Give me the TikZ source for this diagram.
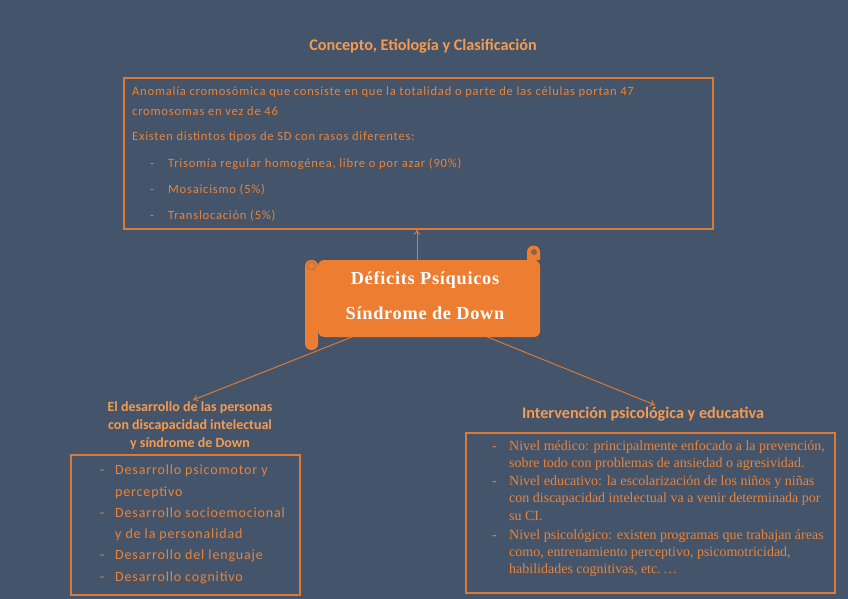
\documentclass[tikz,border=0pt]{standalone}
\usepackage{fontspec}
\setmainfont{Carlito}
\newfontfamily\spacedfont[LetterSpace=6]{Carlito}
\newfontfamily\serifbody{Liberation Serif}
\newfontfamily\scrollfont[LetterSpace=4]{Liberation Serif}
\usetikzlibrary{arrows.meta}
\definecolor{slate}{HTML}{44546A}
\definecolor{scrollorange}{HTML}{ED7D31}
\definecolor{titleorange}{HTML}{F59B50}
\definecolor{textorange}{HTML}{EA843A}
\definecolor{lineorange}{HTML}{DA7A36}

\begin{document}
\begin{tikzpicture}[x=1pt,y=-1pt,
    title/.style={inner sep=0pt,text=titleorange,font=\bfseries\fontsize{16.2}{19}\selectfont},
    subtitle/.style={inner sep=0pt,text=titleorange,align=center,font=\bfseries\fontsize{14}{18}\selectfont},
    box/.style={draw=lineorange,line width=1.4pt,inner sep=0pt},
    txt/.style={anchor=west,inner sep=0pt,text height=11pt,text depth=2.5pt,text=textorange,font=\spacedfont\fontsize{12.6}{14}\selectfont},
    ltxt/.style={anchor=west,inner sep=0pt,text height=12pt,text depth=3pt,text=textorange,font=\spacedfont\fontsize{14}{16}\selectfont},
    rtxt/.style={anchor=west,inner sep=0pt,text height=12pt,text depth=3pt,text=textorange,font=\serifbody\fontsize{14}{16}\selectfont},
    link/.style={draw=lineorange,line width=1pt,-{To[length=5pt,width=7pt]}}]
  % background
  \fill[slate] (0,0) rectangle (848,599);

  % top part
  \node[title] (concept) at (423,46) {Concepto, Etiología y Clasificación};
  \node[box,minimum width=589pt,minimum height=151pt] (topbox) at (418.5,153.5) {};
  \node[txt] (t1) at (132,91) {Anomalía cromosómica que consiste en que la totalidad o parte de las células portan 47};
  \node[txt] (t2) at (132,111) {cromosomas en vez de 46};
  \node[txt] (t3) at (132,136) {Existen distintos tipos de SD con rasos diferentes:};
  \node[txt] (d1) at (150,163) {-};
  \node[txt] (t4) at (168,163) {Trisomía regular homogénea, libre o por azar (90\%)};
  \node[txt] (d2) at (150,189) {-};
  \node[txt] (t5) at (168,189) {Mosaicismo (5\%)};
  \node[txt] (d3) at (150,215) {-};
  \node[txt] (t6) at (168,215) {Translocación (5\%)};

  % scroll
  \fill[scrollorange,rounded corners=6pt] (318,260) -- (540,260) -- (540,337) -- (318,337) -- cycle;
  \fill[scrollorange] (527,260) -- (527,252) arc[start angle=180,end angle=0,radius=6.5pt] -- (540,260) -- cycle;
  \fill[slate!60!scrollorange] (534,252) circle[radius=3pt];
  \fill[scrollorange,rounded corners=6pt] (305,260) rectangle (318,350);
  \draw[slate!50!scrollorange,line width=0.6pt] (311.5,266) circle[radius=4pt];
  \node[inner sep=0pt,minimum width=222pt,minimum height=77pt] (scroll) at (429,298.5) {};
  \node[inner sep=0pt,text=white,font=\scrollfont\bfseries\fontsize{18.3}{20}\selectfont] (s1) at (425,280) {Déficits Psíquicos};
  \node[inner sep=0pt,text=white,font=\scrollfont\bfseries\fontsize{18.3}{20}\selectfont] (s2) at (425,313) {Síndrome de Down};

  % left part
  \node[subtitle] (dev) at (190,426) {El desarrollo de las personas\\con discapacidad intelectual\\y síndrome de Down};
  \node[box,minimum width=229pt,minimum height=140pt] (leftbox) at (185.5,525) {};
  \node[ltxt] (l0) at (100,470) {-};
  \node[ltxt] (l1) at (115,470) {Desarrollo psicomotor y};
  \node[ltxt] (l2) at (115,492) {perceptivo};
  \node[ltxt] (l3) at (100,513) {-};
  \node[ltxt] (l4) at (115,513) {Desarrollo socioemocional};
  \node[ltxt] (l5) at (115,534) {y de la personalidad};
  \node[ltxt] (l6) at (100,555) {-};
  \node[ltxt] (l7) at (115,555) {Desarrollo del lenguaje};
  \node[ltxt] (l8) at (100,577) {-};
  \node[ltxt] (l9) at (115,577) {Desarrollo cognitivo};

  % right part
  \node[title] (interv) at (643,414) {Intervención psicológica y educativa};
  \node[box,minimum width=369pt,minimum height=160pt] (rightbox) at (650.5,513) {};
  \node[rtxt] (r0) at (492,446) {-};
  \node[rtxt] (r1) at (509,446) {Nivel médico: principalmente enfocado a la prevención,};
  \node[rtxt] (r2) at (509,463) {sobre todo con problemas de ansiedad o agresividad.};
  \node[rtxt] (r3) at (492,481) {-};
  \node[rtxt] (r4) at (509,481) {Nivel educativo: la escolarización de los niños y niñas};
  \node[rtxt] (r5) at (509,498) {con discapacidad intelectual va a venir determinada por};
  \node[rtxt] (r6) at (509,516) {su CI.};
  \node[rtxt] (r7) at (492,535) {-};
  \node[rtxt] (r8) at (509,535) {Nivel psicológico: existen programas que trabajan áreas};
  \node[rtxt] (r9) at (509,552) {como, entrenamiento perceptivo, psicomotricidad,};
  \node[rtxt] (r10) at (509,569) {habilidades cognitivas, etc.\,\dots};

  % connectors
  \coordinate (upstart) at (417,260);
  \coordinate (leftstart) at (352,337);
  \coordinate (leftend) at (193,400);
  \coordinate (rightstart) at (485,336);
  \coordinate (rightend) at (655,405);
  \draw[link] (upstart) -- (upstart |- topbox.south);
  \draw[link] (leftstart) -- (leftend);
  \draw[link] (rightstart) -- (rightend);
\end{tikzpicture}
\end{document}
